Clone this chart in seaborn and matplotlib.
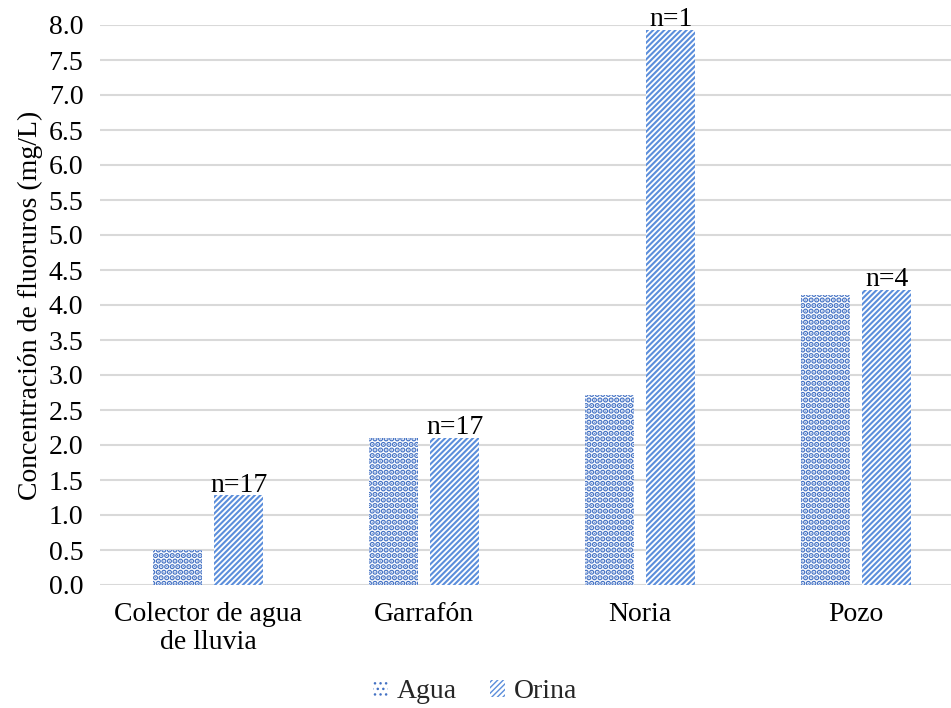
import matplotlib
matplotlib.use("Agg")
import matplotlib.pyplot as plt
from matplotlib.patches import Patch
import numpy as np
import pandas as pd
import seaborn as sns

# Data
fuentes = ["Colector de agua\nde lluvia", "Garrafón", "Noria", "Pozo"]
agua = [0.50, 2.10, 2.72, 4.15]
orina = [1.28, 2.10, 7.93, 4.22]
n_muestras = ["n=17", "n=17", "n=1", "n=4"]
y_ticks = [0.0, 0.5, 1.0, 1.5, 2.0, 2.5, 3.0, 3.5, 4.0, 4.5, 5.0, 5.5, 6.0, 6.5, 7.0, 7.5, 8.0]

df = pd.DataFrame({
    "fuente": fuentes * 2,
    "valor": agua + orina,
    "tipo": ["Agua"] * len(fuentes) + ["Orina"] * len(fuentes),
})

sns.set_theme(style="white")
plt.rcParams["font.family"] = ["Liberation Serif", "DejaVu Serif"]
plt.rcParams["hatch.linewidth"] = 1.0

BLUE = "#4472C4"
STRIPE = "#5B8EDB"
FS = 20

fig = plt.figure(figsize=(9.51, 7.08), dpi=100)
ax = fig.add_axes([100 / 951, 1 - 585 / 708, 851 / 951, 560 / 708])

sns.barplot(data=df, x="fuente", y="valor", hue="tipo", ax=ax,
            palette=["white", "white"], width=0.57, gap=0.2,
            legend=False, errorbar=None)

hatches = {"Agua": "...", "Orina": "//////"}
edge = {"Agua": BLUE, "Orina": STRIPE}
hlw = {"Agua": 2.8, "Orina": 1.5}


def style_patch(p, tipo):
    p.set_hatch(hatches[tipo])
    p.set_edgecolor(edge[tipo])
    p.set_facecolor("white")
    p.set_linewidth(0)
    if hasattr(p, "set_hatch_linewidth"):
        p.set_hatch_linewidth(hlw[tipo])


for container, tipo in zip(ax.containers, ["Agua", "Orina"]):
    for bar in container:
        style_patch(bar, tipo)

# sample size labels over the Orina bars
for bar, txt in zip(ax.containers[1], n_muestras):
    ax.text(bar.get_x() + bar.get_width() / 2, bar.get_height() - 0.03, txt,
            ha="center", va="bottom", fontsize=FS, color="black")

ax.set_ylim(0, 8.0)
ax.set_xlim(-0.5, -0.5 + 851 / 216)
ax.set_yticks(y_ticks)
ax.set_yticklabels([f"{v:.1f}" for v in y_ticks])
ax.yaxis.grid(True, color="#D9D9D9", linewidth=1.5)
ax.set_axisbelow(True)
for s in ax.spines.values():
    s.set_visible(False)
ax.tick_params(axis="both", length=0, labelsize=FS, colors="black")
ax.tick_params(axis="x", pad=12)
ax.tick_params(axis="y", pad=12)
ax.set_xlabel("")
ax.set_ylabel("Concentración de fluoruros (mg/L)", fontsize=FS, color="black", labelpad=4)

handles = []
for tipo in ["Agua", "Orina"]:
    h = Patch(label=tipo)
    style_patch(h, tipo)
    handles.append(h)
fig.legend(handles=handles, loc="center", bbox_to_anchor=(475 / 951, 1 - 692 / 708),
           ncol=2, frameon=False, fontsize=FS, handlelength=0.55, handleheight=0.55,
           handletextpad=0.3, columnspacing=1.2)

fig.savefig("out.png", dpi=100)
